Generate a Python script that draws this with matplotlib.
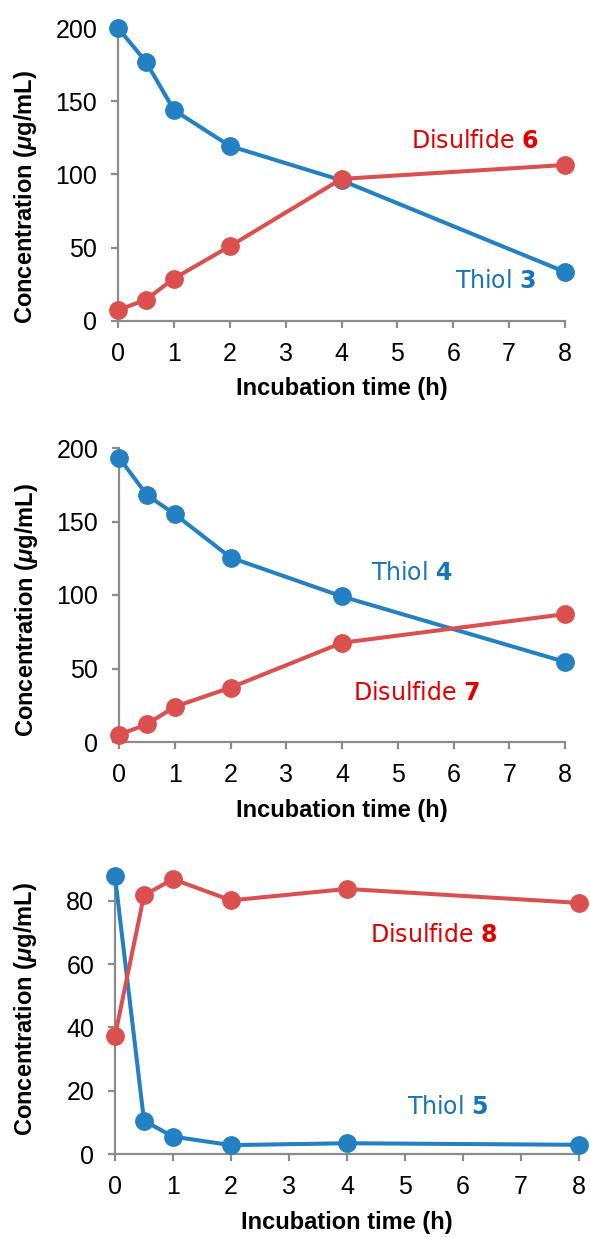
import matplotlib
matplotlib.use('Agg')
import matplotlib.pyplot as plt

plt.rcParams['font.family'] = ['Liberation Sans', 'DejaVu Sans']
plt.rcParams['mathtext.fontset'] = 'custom'
plt.rcParams['mathtext.it'] = 'Liberation Sans:italic:bold'
plt.rcParams['mathtext.bf'] = 'DejaVu Sans:bold'
plt.rcParams['mathtext.rm'] = 'DejaVu Sans'

# data
time_h = [0, 0.5, 1, 2, 4, 8]

thiol_3 = [200, 177, 144, 119.5, 96, 33.5]
disulfide_6 = [7.5, 14.5, 29, 51, 97, 106.5]

thiol_4 = [193.5, 168, 155, 125.5, 99, 54.5]
disulfide_7 = [5, 12, 24, 37, 67.5, 87]

thiol_5 = [87.7, 10.5, 5.5, 2.8, 3.4, 2.9]
disulfide_8 = [37.3, 81.7, 86.8, 80.1, 83.7, 79.3]

blue = '#2380c2'
red = '#db4f4f'
blue_txt = '#1a74bd'
red_txt = '#e00000'
axis_gray = '#8c8c8c'

W, H = 590, 1237
fig = plt.figure(figsize=(W / 100, H / 100), dpi=100)


def px_axes(left, right, top, bottom):
    return fig.add_axes([left / W, 1 - bottom / H, (right - left) / W, (bottom - top) / H])


panels = [
    dict(box=(118, 565, 28, 321), ylim=(0, 200), yticks=[0, 50, 100, 150, 200],
         thiol=thiol_3, dis=disulfide_6, ylab_y=197,
         t_lab=('Thiol', '3', 6.75, 27), d_lab=('Disulfide', '6', 6.39, 123)),
    dict(box=(119, 565, 448, 742), ylim=(0, 200), yticks=[0, 50, 100, 150, 200],
         thiol=thiol_4, dis=disulfide_7, ylab_y=610,
         t_lab=('Thiol', '4', 5.26, 115), d_lab=('Disulfide', '7', 5.34, 33)),
    dict(box=(115, 579, 869, 1154), ylim=(0, 90), yticks=[0, 20, 40, 60, 80],
         thiol=thiol_5, dis=disulfide_8, ylab_y=1009,
         t_lab=('Thiol', '5', 5.74, 14.8), d_lab=('Disulfide', '8', 5.5, 69.2)),
]

for p in panels:
    left, right, top, bottom = p['box']
    ax = px_axes(left, right, top, bottom)
    ax.plot(time_h, p['thiol'], color=blue, lw=2.9, marker='o', ms=12.5, clip_on=False, zorder=3)
    ax.plot(time_h, p['dis'], color=red, lw=2.9, marker='o', ms=12.5, clip_on=False, zorder=4)
    ax.set_xlim(0, 8)
    ax.set_ylim(*p['ylim'])
    ax.set_xticks(range(9))
    ax.set_yticks(p['yticks'])
    for s in ['top', 'right']:
        ax.spines[s].set_visible(False)
    for s in ['left', 'bottom']:
        ax.spines[s].set_color(axis_gray)
        ax.spines[s].set_linewidth(1.6)
    ax.tick_params(axis='both', colors=axis_gray, width=1.6, length=5, labelsize=18,
                   labelcolor='black', pad=10)

    hpx = bottom - top
    wpx = right - left
    ax.set_xlabel('Incubation time (h)', fontsize=17, fontweight='bold')
    ax.xaxis.set_label_coords(0.5, -68 / hpx)
    ax.xaxis.label.set_va('center')
    ax.set_ylabel(r'Concentration ($\mathit{\mu}$g/mL)', fontsize=17, fontweight='bold')
    ax.yaxis.set_label_coords((26 - left) / wpx, (bottom - p['ylab_y']) / hpx)
    ax.yaxis.label.set_va('center')

    name, num, tx, ty = p['t_lab']
    ax.text(tx, ty, name + r' $\mathbf{' + num + '}$', color=blue_txt, fontsize=17,
            family='DejaVu Sans', ha='center', va='center')
    name, num, tx, ty = p['d_lab']
    ax.text(tx, ty, name + r' $\mathbf{' + num + '}$', color=red_txt, fontsize=17,
            family='DejaVu Sans', ha='center', va='center')

fig.savefig('out.png', dpi=100, facecolor='white')
